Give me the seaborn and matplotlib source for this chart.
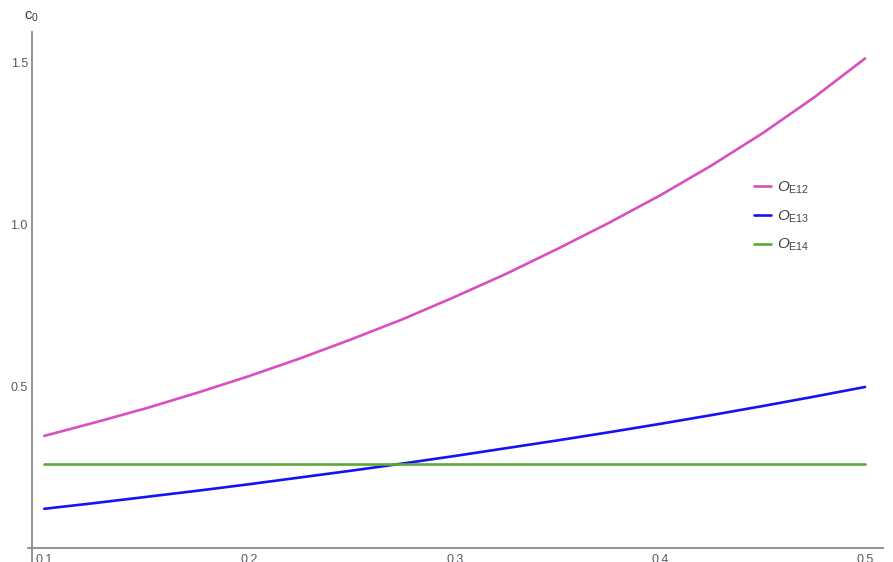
import numpy as np
import pandas as pd
import matplotlib
matplotlib.use('Agg')
import matplotlib.pyplot as plt
from matplotlib.ticker import MultipleLocator, FormatStrFormatter
from matplotlib.lines import Line2D
import seaborn as sns

# values
x_vals = [0.1, 0.125, 0.15, 0.175, 0.2, 0.225, 0.25, 0.275, 0.3,
          0.325, 0.35, 0.375, 0.4, 0.425, 0.45, 0.475, 0.5]
o_e12 = [0.346, 0.388, 0.432, 0.480, 0.531, 0.586, 0.645, 0.707, 0.775,
         0.846, 0.923, 1.003, 1.088, 1.180, 1.280, 1.390, 1.511]
o_e13 = [0.121, 0.139, 0.158, 0.177, 0.197, 0.218, 0.239, 0.261, 0.284,
         0.308, 0.332, 0.357, 0.383, 0.410, 0.438, 0.467, 0.497]
o_e14 = [0.259] * len(x_vals)

series_names = [r'$\mathit{O}_{\mathregular{E12}}$',
                r'$\mathit{O}_{\mathregular{E13}}$',
                r'$\mathit{O}_{\mathregular{E14}}$']
colors = ['#d94fbf', '#1414f0', '#5da832']

df = pd.DataFrame({
    'x': x_vals * 3,
    'c0': o_e12 + o_e13 + o_e14,
    'serie': [series_names[0]] * len(x_vals) + [series_names[1]] * len(x_vals)
             + [series_names[2]] * len(x_vals),
})

sns.set_style('white')
plt.rcParams['font.family'] = ['Liberation Sans', 'DejaVu Sans']
plt.rcParams['mathtext.fontset'] = 'custom'
plt.rcParams['mathtext.rm'] = 'Liberation Sans'
plt.rcParams['mathtext.it'] = 'Liberation Sans:italic'

axis_grey = '#8a8a8a'
label_grey = '#555b66'

fig = plt.figure(figsize=(8.93, 5.62), dpi=100)
ax = fig.add_axes([28 / 893, 0, 855 / 893, 530 / 562])

sns.lineplot(data=df, x='x', y='c0', hue='serie', palette=colors,
             linewidth=1.9, ax=ax, legend=False, sort=True)

ax.set_xlim(0.09206, 0.50873)
ax.set_ylim(-0.0432, 1.5926)

for s in ['top', 'right']:
    ax.spines[s].set_visible(False)
ax.spines['left'].set_position(('data', 0.09401))
ax.spines['bottom'].set_position(('data', 0.0))
for s in ['left', 'bottom']:
    ax.spines[s].set_color(axis_grey)
    ax.spines[s].set_linewidth(1.3)

ax.xaxis.set_major_locator(MultipleLocator(0.1))
ax.xaxis.set_minor_locator(MultipleLocator(0.02))
ax.yaxis.set_major_locator(MultipleLocator(0.5))
ax.yaxis.set_minor_locator(MultipleLocator(0.1))
ax.xaxis.set_major_formatter(FormatStrFormatter('%.1f'))
ax.yaxis.set_major_formatter(FormatStrFormatter('%.1f'))

ax.tick_params(axis='both', which='major', direction='in', length=3.5,
               width=0.8, color=axis_grey, labelsize=9,
               labelcolor=label_grey, pad=3)
ax.tick_params(axis='x', which='major', pad=4)
ax.tick_params(axis='both', which='minor', direction='in', length=2.2,
               width=0.7, color='#777777')
ax.set_yticks([0.5, 1.0, 1.5])
ax.set_xlabel('')
ax.set_ylabel('')

fig.text(31 / 893, 1 - 17 / 562, r'$\mathregular{c_0}$', ha='center',
         va='center', fontsize=10.5, color='#333333')

handles = [Line2D([0], [0], color=c, linewidth=1.9) for c in colors]
ax.legend(handles, series_names, loc='upper left',
          bbox_to_anchor=(740 / 893, 1 - 166 / 562),
          bbox_transform=fig.transFigure, frameon=False, fontsize=11,
          handlelength=1.1, handletextpad=0.45, labelspacing=0.8,
          labelcolor='#444444')

fig.savefig('out.png', dpi=100)
